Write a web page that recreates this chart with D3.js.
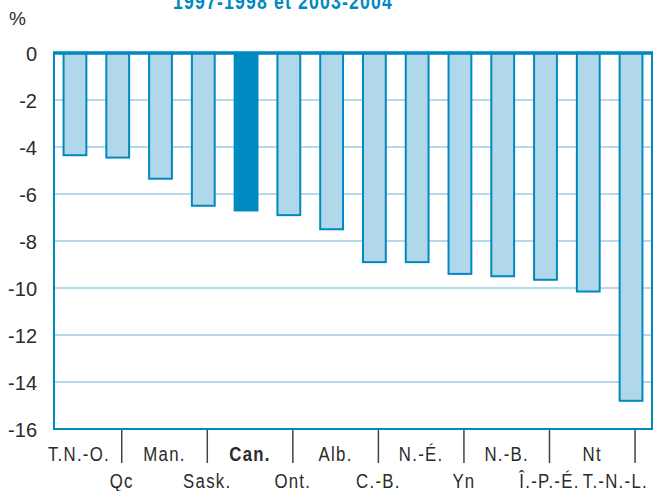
<!DOCTYPE html>
<html>
<head>
<meta charset="utf-8">
<script src="https://cdn.jsdelivr.net/npm/d3@7"></script>
<style>
  body { margin: 0; background: #fff; }
  svg { display: block; }
</style>
</head>
<body>
<div id="chart"></div>
<script>
// DATA
var provinces = ["T.N.-O.", "Qc", "Man.", "Sask.", "Can.", "Ont.", "Alb.",
                 "C.-B.", "N.-É.", "Yn", "N.-B.", "Î.-P.-É.", "Nt", "T.-N.-L."];
var change = [-4.35, -4.45, -5.35, -6.5, -6.7, -6.9, -7.5,
              -8.9, -8.9, -9.4, -9.5, -9.65, -10.15, -14.8];
var yTicks = [0, -2, -4, -6, -8, -10, -12, -14, -16];
var highlight = "Can.";

var W = 655, H = 491;
var margin = {top: 53, right: 3, bottom: 62, left: 54};
var width = W - margin.left - margin.right,
    height = H - margin.top - margin.bottom;

var narrow = 0.8; // horizontal squeeze to mimic the condensed face

var svg = d3.select("#chart").append("svg")
  .attr("width", W)
  .attr("height", H);

// title (cut off by the top edge of the picture)
svg.append("g")
  .attr("transform", `translate(283, 9) scale(${narrow}, 1)`)
  .append("text")
  .attr("text-anchor", "middle")
  .style("font-family", "'Liberation Sans', Arial, sans-serif")
  .style("font-weight", "bold")
  .style("font-size", "22px")
  .style("letter-spacing", "1.5px")
  .attr("fill", "#0089c0")
  .text("1997-1998 et 2003-2004");

var g = svg.append("g")
  .attr("transform", `translate(${margin.left}, ${margin.top})`);

//SCALES
var xScale = d3.scaleBand()
  .domain(provinces)
  .range([0, width])
  .paddingInner(0.42)
  .paddingOuter(0.2);

var yScale = d3.scaleLinear()
  .domain([-16, 0])
  .range([height, 0]);

//GRIDLINES
g.append("g")
  .selectAll("line")
  .data(yTicks.filter(function(d) { return d < 0 && d > -16; }))
  .enter().append("line")
  .attr("x1", 0)
  .attr("x2", width)
  .attr("y1", function(d) { return yScale(d); })
  .attr("y2", function(d) { return yScale(d); })
  .attr("stroke", "#b5daeb")
  .attr("stroke-width", 2);

//Y AXIS LABELS
var yAxis = d3.axisLeft(yScale)
  .tickValues(yTicks)
  .tickSize(0)
  .tickPadding(17)
  .tickFormat(function(d) { return d === 0 ? "0" : "-" + Math.abs(d); });

var yg = g.append("g").call(yAxis);
yg.select(".domain").remove();
yg.selectAll("text")
  .style("font-family", "'Liberation Sans', Arial, sans-serif")
  .style("font-size", "20px")
  .attr("dy", "0.36em")
  .attr("fill", "#2b2b2b");

svg.append("text")
  .attr("x", 9)
  .attr("y", 25)
  .style("font-family", "'Liberation Sans', Arial, sans-serif")
  .style("font-size", "19px")
  .attr("fill", "#2b2b2b")
  .text("%");

//BARS
g.append("g")
  .selectAll("rect")
  .data(provinces)
  .enter().append("rect")
  .attr("x", function(d) { return xScale(d) + 1; })
  .attr("y", yScale(0))
  .attr("width", xScale.bandwidth() - 2)
  .attr("height", function(d, i) { return yScale(change[i]) - yScale(0); })
  .attr("fill", function(d) { return d === highlight ? "#0089c0" : "#b0d8ea"; })
  .attr("stroke", "#0089c0")
  .attr("stroke-width", 2);

//FRAME: left, right, bottom
g.append("path")
  .attr("d", `M0,0V${height}H${width}V0`)
  .attr("fill", "none")
  .attr("stroke", "#0089c0")
  .attr("stroke-width", 2);

//ZERO LINE
g.append("line")
  .attr("x1", -1)
  .attr("x2", width + 1)
  .attr("y1", yScale(0))
  .attr("y2", yScale(0))
  .attr("stroke", "#0089c0")
  .attr("stroke-width", 3.5);

//CATEGORY LABELS (two staggered rows, ticks above the lower row)
var xg = g.append("g")
  .attr("transform", `translate(0, ${height})`);

var shift = 4;
function cx(d) { return xScale(d) + xScale.bandwidth() / 2 + shift; }

xg.selectAll("line.tick")
  .data(provinces.filter(function(d, i) { return i % 2 === 1; }))
  .enter().append("line")
  .attr("class", "tick")
  .attr("x1", cx)
  .attr("x2", cx)
  .attr("y1", 1)
  .attr("y2", 34)
  .attr("stroke", "#444")
  .attr("stroke-width", 1.5);

var cat = xg.selectAll("g.cat")
  .data(provinces)
  .enter().append("g")
  .attr("class", "cat");

cat.append("text")
  .attr("text-anchor", "middle")
  .style("font-family", "'Liberation Sans', Arial, sans-serif")
  .style("font-size", "21px")
  .style("letter-spacing", "1.6px")
  .style("font-weight", function(d) { return d === highlight ? "bold" : "normal"; })
  .attr("fill", "#2b2b2b")
  .text(function(d) { return d; });

// place each label, keeping the last one inside the frame
var maxRight = W - margin.left - 7;
cat.attr("transform", function(d, i) {
  var w = this.querySelector("text").getComputedTextLength() * narrow;
  var x = Math.min(cx(d), maxRight - w / 2);
  var y = i % 2 === 0 ? 32 : 59;
  return `translate(${x}, ${y}) scale(${narrow}, 1)`;
});
</script>
</body>
</html>
